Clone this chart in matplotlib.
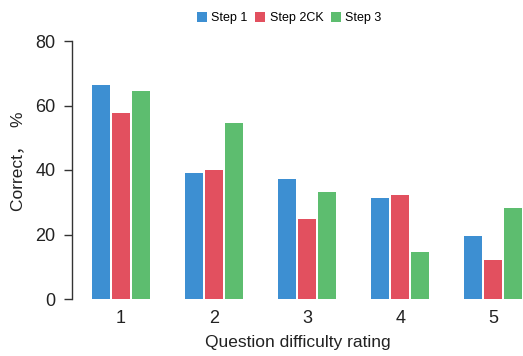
import numpy as np
import matplotlib
matplotlib.use("Agg")
import matplotlib.pyplot as plt

plt.rcParams['font.family'] = ['Liberation Sans', 'Noto Sans CJK SC', 'DejaVu Sans']

ratings = ['1', '2', '3', '4', '5']
series = ['Step 1', 'Step 2CK', 'Step 3']
step1 = [66.4, 39.1, 37.2, 31.3, 19.5]
step2ck = [57.7, 40.0, 24.8, 32.2, 12.1]
step3 = [64.5, 54.6, 33.2, 14.6, 28.2]
colors = ['#3d8fd2', '#e2505f', '#5dbd6f']

fig = plt.figure(figsize=(5.23, 3.56), dpi=100)
ax = fig.add_axes([72 / 523, 1 - 299 / 356, 1 - 72 / 523, 258 / 356])

x = np.arange(1, len(ratings) + 1)
w = 0.194
step = 0.215
for i, (vals, lab) in enumerate(zip([step1, step2ck, step3], series)):
    ax.bar(x + (i - 1) * step, vals, width=w, color=colors[i], label=lab,
           edgecolor='none')

ax.set_xlim(0.473, 5.32)
ax.set_ylim(0, 80)
ax.set_yticks([0, 20, 40, 60, 80])
ax.set_xticks(x)
ax.set_xticklabels(ratings)
for s in ['top', 'right', 'bottom']:
    ax.spines[s].set_visible(False)
ax.spines['left'].set_linewidth(1.0)
ax.spines['left'].set_color('#333333')
ax.tick_params(axis='y', length=6, width=1.0, color='#333333', labelsize=13, pad=6,
               labelcolor='#222222')
ax.tick_params(axis='x', length=0, labelsize=13, pad=8, labelcolor='#222222')

ax.set_xlabel('Question difficulty rating', fontsize=12.5, color='#222222', labelpad=6)
ax.set_ylabel('Correct，  %', fontsize=12.5, color='#222222')
ax.yaxis.set_label_coords(-0.104, 0.535)

fig.legend(loc='center', bbox_to_anchor=(0.553, 1 - 18 / 356), ncol=3, frameon=False,
           fontsize=9, handlelength=0.8, handleheight=0.8, handletextpad=0.35,
           columnspacing=0.6)

fig.savefig('out.png', dpi=100)
